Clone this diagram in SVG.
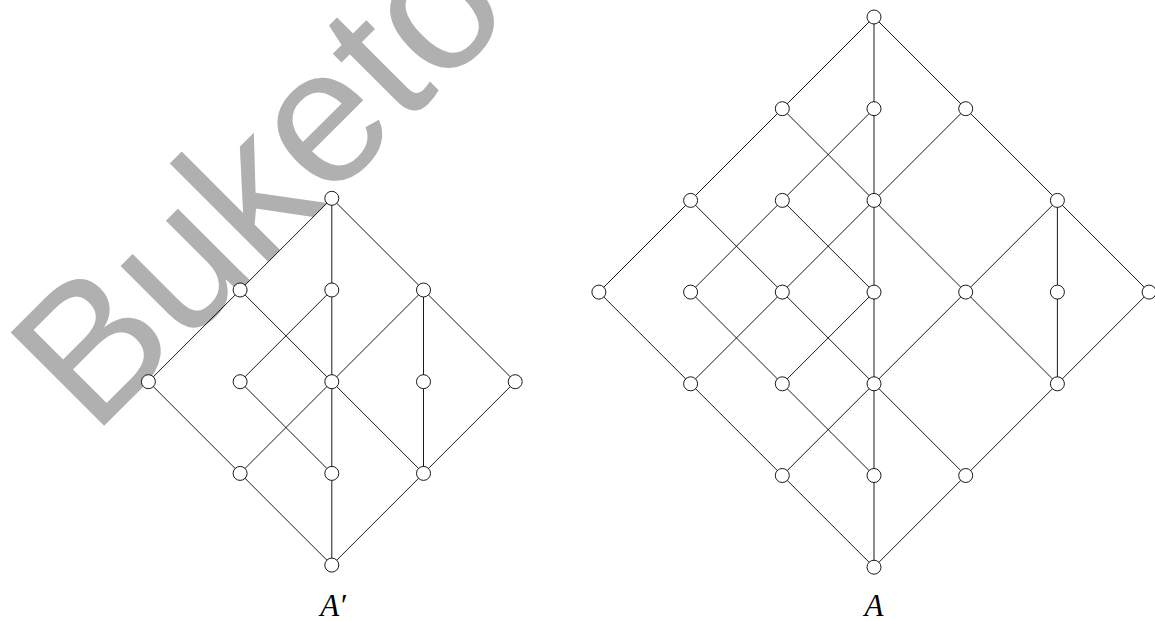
<svg xmlns="http://www.w3.org/2000/svg" width="1155" height="621" viewBox="0 0 1155 621">
<style>
.e{stroke:#000;stroke-width:0.9;fill:none}
.n{fill:#fff;stroke:#000;stroke-width:0.9}
.lbl{font-family:'Liberation Serif','Times New Roman',serif;font-style:italic;font-size:31px;fill:#000;text-anchor:middle}
.wm{font-family:'Liberation Sans',Arial,sans-serif;font-size:192px;fill:#b0b0b0}
</style>
<rect width="1155" height="621" fill="#fff"/>
<text class="wm" transform="translate(93,437) rotate(-45)">Buketov</text>
<g id="connectors">
<line class="e" x1="331.8" y1="198.3" x2="240.1" y2="290"/>
<line class="e" x1="331.8" y1="198.3" x2="331.8" y2="290"/>
<line class="e" x1="331.8" y1="198.3" x2="423.5" y2="290"/>
<line class="e" x1="240.1" y1="290" x2="148.4" y2="381.7"/>
<line class="e" x1="240.1" y1="290" x2="331.8" y2="381.7"/>
<line class="e" x1="331.8" y1="290" x2="240.1" y2="381.7"/>
<line class="e" x1="331.8" y1="290" x2="331.8" y2="381.7"/>
<line class="e" x1="423.5" y1="290" x2="331.8" y2="381.7"/>
<line class="e" x1="423.5" y1="290" x2="423.5" y2="381.7"/>
<line class="e" x1="423.5" y1="290" x2="515.2" y2="381.7"/>
<line class="e" x1="148.4" y1="381.7" x2="240.1" y2="473.4"/>
<line class="e" x1="240.1" y1="381.7" x2="331.8" y2="473.4"/>
<line class="e" x1="331.8" y1="381.7" x2="240.1" y2="473.4"/>
<line class="e" x1="331.8" y1="381.7" x2="331.8" y2="473.4"/>
<line class="e" x1="331.8" y1="381.7" x2="423.5" y2="473.4"/>
<line class="e" x1="423.5" y1="381.7" x2="423.5" y2="473.4"/>
<line class="e" x1="515.2" y1="381.7" x2="423.5" y2="473.4"/>
<line class="e" x1="240.1" y1="473.4" x2="331.8" y2="565.1"/>
<line class="e" x1="331.8" y1="473.4" x2="331.8" y2="565.1"/>
<line class="e" x1="423.5" y1="473.4" x2="331.8" y2="565.1"/>
<line class="e" x1="874" y1="17" x2="782.3" y2="108.7"/>
<line class="e" x1="874" y1="17" x2="874" y2="108.7"/>
<line class="e" x1="874" y1="17" x2="965.7" y2="108.7"/>
<line class="e" x1="782.3" y1="108.7" x2="690.6" y2="200.4"/>
<line class="e" x1="782.3" y1="108.7" x2="874" y2="200.4"/>
<line class="e" x1="874" y1="108.7" x2="782.3" y2="200.4"/>
<line class="e" x1="874" y1="108.7" x2="874" y2="200.4"/>
<line class="e" x1="965.7" y1="108.7" x2="874" y2="200.4"/>
<line class="e" x1="965.7" y1="108.7" x2="1057.4" y2="200.4"/>
<line class="e" x1="690.6" y1="200.4" x2="598.9" y2="292.1"/>
<line class="e" x1="690.6" y1="200.4" x2="782.3" y2="292.1"/>
<line class="e" x1="782.3" y1="200.4" x2="690.6" y2="292.1"/>
<line class="e" x1="782.3" y1="200.4" x2="874" y2="292.1"/>
<line class="e" x1="874" y1="200.4" x2="782.3" y2="292.1"/>
<line class="e" x1="874" y1="200.4" x2="874" y2="292.1"/>
<line class="e" x1="874" y1="200.4" x2="965.7" y2="292.1"/>
<line class="e" x1="1057.4" y1="200.4" x2="965.7" y2="292.1"/>
<line class="e" x1="1057.4" y1="200.4" x2="1057.4" y2="292.1"/>
<line class="e" x1="1057.4" y1="200.4" x2="1149.1" y2="292.1"/>
<line class="e" x1="598.9" y1="292.1" x2="690.6" y2="383.8"/>
<line class="e" x1="690.6" y1="292.1" x2="782.3" y2="383.8"/>
<line class="e" x1="782.3" y1="292.1" x2="690.6" y2="383.8"/>
<line class="e" x1="782.3" y1="292.1" x2="874" y2="383.8"/>
<line class="e" x1="874" y1="292.1" x2="782.3" y2="383.8"/>
<line class="e" x1="874" y1="292.1" x2="874" y2="383.8"/>
<line class="e" x1="965.7" y1="292.1" x2="874" y2="383.8"/>
<line class="e" x1="965.7" y1="292.1" x2="1057.4" y2="383.8"/>
<line class="e" x1="1057.4" y1="292.1" x2="1057.4" y2="383.8"/>
<line class="e" x1="1149.1" y1="292.1" x2="1057.4" y2="383.8"/>
<line class="e" x1="690.6" y1="383.8" x2="782.3" y2="475.5"/>
<line class="e" x1="782.3" y1="383.8" x2="874" y2="475.5"/>
<line class="e" x1="874" y1="383.8" x2="782.3" y2="475.5"/>
<line class="e" x1="874" y1="383.8" x2="874" y2="475.5"/>
<line class="e" x1="874" y1="383.8" x2="965.7" y2="475.5"/>
<line class="e" x1="1057.4" y1="383.8" x2="965.7" y2="475.5"/>
<line class="e" x1="782.3" y1="475.5" x2="874" y2="567.2"/>
<line class="e" x1="874" y1="475.5" x2="874" y2="567.2"/>
<line class="e" x1="965.7" y1="475.5" x2="874" y2="567.2"/>
</g>
<g id="graphAprime">
<g id="ap-0-0"><circle class="n" cx="331.8" cy="198.3" r="7"/></g>
<g id="ap-1-0"><circle class="n" cx="240.1" cy="290" r="7"/></g>
<g id="ap-1-1"><circle class="n" cx="331.8" cy="290" r="7"/></g>
<g id="ap-1-2"><circle class="n" cx="423.5" cy="290" r="7"/></g>
<g id="ap-2-0"><circle class="n" cx="148.4" cy="381.7" r="7"/></g>
<g id="ap-2-1"><circle class="n" cx="240.1" cy="381.7" r="7"/></g>
<g id="ap-2-2"><circle class="n" cx="331.8" cy="381.7" r="7"/></g>
<g id="ap-2-3"><circle class="n" cx="423.5" cy="381.7" r="7"/></g>
<g id="ap-2-4"><circle class="n" cx="515.2" cy="381.7" r="7"/></g>
<g id="ap-3-0"><circle class="n" cx="240.1" cy="473.4" r="7"/></g>
<g id="ap-3-1"><circle class="n" cx="331.8" cy="473.4" r="7"/></g>
<g id="ap-3-2"><circle class="n" cx="423.5" cy="473.4" r="7"/></g>
<g id="ap-4-0"><circle class="n" cx="331.8" cy="565.1" r="7"/></g>
<text id="label-Aprime" class="lbl" x="333" y="616">A′</text>
</g>
<g id="graphA">
<g id="a-0-0"><circle class="n" cx="874" cy="17" r="7"/></g>
<g id="a-1-0"><circle class="n" cx="782.3" cy="108.7" r="7"/></g>
<g id="a-1-1"><circle class="n" cx="874" cy="108.7" r="7"/></g>
<g id="a-1-2"><circle class="n" cx="965.7" cy="108.7" r="7"/></g>
<g id="a-2-0"><circle class="n" cx="690.6" cy="200.4" r="7"/></g>
<g id="a-2-1"><circle class="n" cx="782.3" cy="200.4" r="7"/></g>
<g id="a-2-2"><circle class="n" cx="874" cy="200.4" r="7"/></g>
<g id="a-2-3"><circle class="n" cx="1057.4" cy="200.4" r="7"/></g>
<g id="a-3-0"><circle class="n" cx="598.9" cy="292.1" r="7"/></g>
<g id="a-3-1"><circle class="n" cx="690.6" cy="292.1" r="7"/></g>
<g id="a-3-2"><circle class="n" cx="782.3" cy="292.1" r="7"/></g>
<g id="a-3-3"><circle class="n" cx="874" cy="292.1" r="7"/></g>
<g id="a-3-4"><circle class="n" cx="965.7" cy="292.1" r="7"/></g>
<g id="a-3-5"><circle class="n" cx="1057.4" cy="292.1" r="7"/></g>
<g id="a-3-6"><circle class="n" cx="1149.1" cy="292.1" r="7"/></g>
<g id="a-4-0"><circle class="n" cx="690.6" cy="383.8" r="7"/></g>
<g id="a-4-1"><circle class="n" cx="782.3" cy="383.8" r="7"/></g>
<g id="a-4-2"><circle class="n" cx="874" cy="383.8" r="7"/></g>
<g id="a-4-3"><circle class="n" cx="1057.4" cy="383.8" r="7"/></g>
<g id="a-5-0"><circle class="n" cx="782.3" cy="475.5" r="7"/></g>
<g id="a-5-1"><circle class="n" cx="874" cy="475.5" r="7"/></g>
<g id="a-5-2"><circle class="n" cx="965.7" cy="475.5" r="7"/></g>
<g id="a-6-0"><circle class="n" cx="874" cy="567.2" r="7"/></g>
<text id="label-A" class="lbl" x="874" y="616">A</text>
</g>
</svg>
